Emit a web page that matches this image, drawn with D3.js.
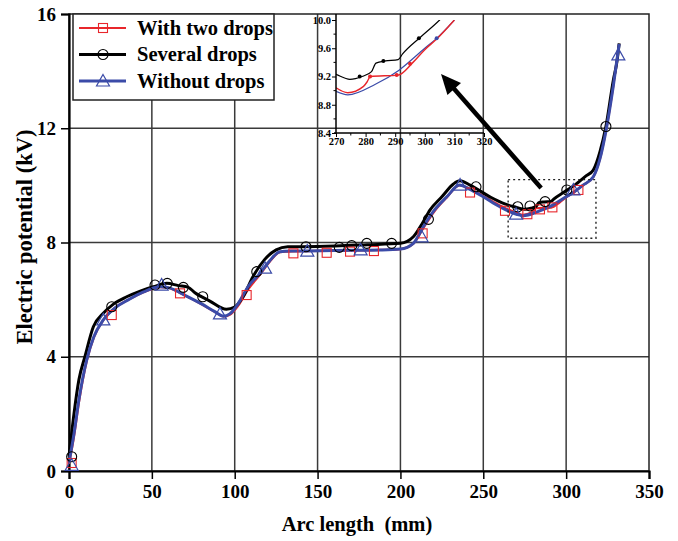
<!DOCTYPE html>
<html><head><meta charset="utf-8">
<script src="https://cdn.jsdelivr.net/npm/d3@7"></script>
<style>body{margin:0;background:#fff} svg text{font-family:"Liberation Serif","Times New Roman","DejaVu Serif",serif;font-weight:bold}</style>
</head><body><svg id="c" width="678" height="541"></svg>
<script>
// ---- data ----
const xTicks=[0,50,100,150,200,250,300,350];
const yTicks=[0,4,8,12,16];
const insetXTicks=[270,280,290,300,310,320];
const insetYTicks=[8.4,8.8,9.2,9.6,10.0];
const seriesNames=["With two drops","Several drops","Without drops"];
const seriesColors=["#e8262b","#000000","#3b4ba8"];

const redLine=[[0,0.25],[3,1.2],[6,2.4],[10.7,3.85],[15,4.68],[20.7,5.28],[28,5.72],[36,6.0],[45,6.26],[55,6.44],[60,6.41],[70,6.14],[80,5.84],[88,5.57],[93.2,5.41],[97,5.47],[102,5.78],[108,6.35],[115.3,6.88],[121,7.32],[127.3,7.66],[135,7.69],[160,7.71],[188,7.74],[200,7.77],[207.8,7.96],[213.8,8.5],[220,9.05],[228,9.58],[235.6,10.0],[242,9.87],[250,9.63],[260,9.3],[270,9.04],[274,8.97],[279.3,9.06],[280.6,9.13],[281.6,9.2],[291,9.22],[296,9.4],[300,9.58],[304,9.73],[310,10.0],[316.4,10.3],[320.5,10.95],[324,11.9],[328.5,13.5],[332,14.95]];
const blackLine=[[0,0.5],[3,2.0],[6,3.2],[9.6,4.0],[14.7,5.05],[20.7,5.52],[27,5.85],[34.8,6.1],[43,6.3],[50.9,6.45],[59,6.57],[66,6.49],[72,6.43],[76,6.24],[85,5.95],[95,5.66],[100,5.74],[105,6.1],[111,6.8],[118,7.4],[125,7.74],[132,7.85],[150,7.86],[180,7.92],[200,7.97],[207.8,8.2],[213,8.65],[217.9,9.14],[225,9.6],[232,10.05],[236,10.16],[242,10.01],[254,9.6],[263,9.35],[270,9.23],[274.7,9.16],[278.8,9.2],[282,9.27],[283.5,9.39],[286.7,9.42],[291,9.44],[292.5,9.52],[298.6,9.76],[305,10.0],[312,10.33],[316.4,10.54],[320.5,11.2],[324,12.06],[328.5,13.69],[330.7,14.35],[332,14.97]];
const blueLine=[[0,0.3],[3,1.3],[6,2.5],[10.7,3.89],[15,4.7],[20.7,5.29],[28,5.72],[36,6.0],[45,6.27],[55,6.45],[60,6.42],[70,6.15],[80,5.85],[88,5.58],[93.2,5.42],[97,5.5],[102,5.85],[108,6.45],[115.3,6.92],[121,7.35],[127.3,7.68],[135,7.7],[160,7.72],[188,7.74],[200,7.77],[207.8,7.97],[213.8,8.55],[220,9.1],[228,9.6],[235.6,10.01],[242,9.86],[250,9.6],[260,9.25],[270,8.99],[274,8.94],[283.3,9.09],[291.3,9.29],[300,9.6],[304,9.74],[310,10.0],[316.4,10.3],[320.5,10.95],[324,11.9],[328.5,13.5],[332,14.95]];

const redMarks=[[1.6,0.28],[25.8,5.46],[67,6.22],[107.2,6.16],[135.4,7.62],[155.5,7.64],[169.6,7.68],[184,7.7],[213.4,8.32],[242,9.75],[263.1,9.11],[276.6,8.99],[284.2,9.16],[291.7,9.23],[307.4,9.84]];
const blackMarks=[[1.6,0.5],[25.8,5.75],[51.9,6.51],[59.3,6.57],[69,6.43],[80.7,6.1],[113.3,6.98],[143,7.85],[163.1,7.83],[170.6,7.89],[179.7,7.97],[194.7,7.97],[216.9,8.81],[245.6,9.95],[270.8,9.25],[278.2,9.28],[287.3,9.43],[300.4,9.84],[324,12.06]];
const blueMarks=[[1.6,0.2],[20.7,5.29],[55.9,6.51],[91.1,5.5],[118.3,7.1],[143.8,7.7],[176,7.74],[212.8,8.2],[236,10.01],[269.8,8.99],[304.4,9.84],[331.5,14.57]];

const insetRedDots=[[281.5,9.2],[290.5,9.22],[295,9.38]];
const insetBlackDots=[[278,9.2],[286,9.42],[298,9.74]];
const insetBlueDots=[[304,9.74]];

const zoomBox={x0:265,x1:318,y0:8.15,y1:10.2};
const arrowFrom=[284.9,9.91], arrowTo=[224.5,13.9];

// ---- layout ----
const svg=d3.select("#c");
const L=69,R=649,T=14,B=471;
const x=d3.scaleLinear().domain([0,350]).range([L,R]);
const y=d3.scaleLinear().domain([0,16]).range([B,T]);

// grid
svg.append("g").selectAll("line").data(xTicks.filter(d=>d>0&&d<350)).join("line")
  .attr("x1",d=>x(d)).attr("x2",d=>x(d)).attr("y1",T).attr("y2",B)
  .attr("stroke","#3a3a3a").attr("stroke-width",1.5);
svg.append("g").selectAll("line").data(yTicks.filter(d=>d>0&&d<16)).join("line")
  .attr("y1",d=>y(d)).attr("y2",d=>y(d)).attr("x1",L).attr("x2",R)
  .attr("stroke","#3a3a3a").attr("stroke-width",1.5);

// frame
svg.append("rect").attr("x",L).attr("y",T).attr("width",R-L).attr("height",B-T)
  .attr("fill","none").attr("stroke","#222").attr("stroke-width",1.5);

// axes
const xAxis=svg.append("g").attr("transform",`translate(0,${B})`)
  .call(d3.axisBottom(x).tickValues(xTicks).tickSize(8).tickPadding(6).tickFormat(d3.format("d")));
const yAxis=svg.append("g").attr("transform",`translate(${L},0)`)
  .call(d3.axisLeft(y).tickValues(yTicks).tickSize(8).tickPadding(5).tickFormat(d3.format("d")));
[xAxis,yAxis].forEach(g=>{
  g.attr("font-family",null);
  g.select(".domain").attr("stroke","#000").attr("stroke-width",2.2);
  g.selectAll(".tick line").attr("stroke","#000").attr("stroke-width",1.5);
  g.selectAll(".tick text").attr("font-size",19).attr("fill","#000");
});

// titles
svg.append("text").attr("x",357).attr("y",531).attr("text-anchor","middle")
  .attr("font-size",20.5).attr("xml:space","preserve")
  .text("Arc length  (mm)");
svg.append("text").attr("transform","translate(32,237) rotate(-90)").attr("text-anchor","middle")
  .attr("font-size",22.5)
  .text("Electric potential (kV)");

// lines
const line=d3.line().x(d=>x(d[0])).y(d=>y(d[1])).curve(d3.curveMonotoneX);
svg.append("path").datum(redLine).attr("d",line).attr("fill","none").attr("stroke",seriesColors[0]).attr("stroke-width",2.2);
svg.append("path").datum(blackLine).attr("d",line).attr("fill","none").attr("stroke",seriesColors[1]).attr("stroke-width",3);
svg.append("path").datum(blueLine).attr("d",line).attr("fill","none").attr("stroke",seriesColors[2]).attr("stroke-width",3);

// markers
function sq(g,cx,cy,col){g.append("rect").attr("x",cx-4.5).attr("y",cy-4.5).attr("width",9).attr("height",9).attr("fill","none").attr("stroke",col).attr("stroke-width",1.1);}
function ci(g,cx,cy,col){g.append("circle").attr("cx",cx).attr("cy",cy).attr("r",5).attr("fill","none").attr("stroke",col).attr("stroke-width",1.1);}
function tr(g,cx,cy,col){g.append("path").attr("d",`M${cx},${cy-6.5}L${cx+6.5},${cy+5}L${cx-6.5},${cy+5}Z`).attr("fill","none").attr("stroke",col).attr("stroke-width",1.2);}
const mg=svg.append("g");
redMarks.forEach(d=>sq(mg,x(d[0]),y(d[1]),seriesColors[0]));
blackMarks.forEach(d=>ci(mg,x(d[0]),y(d[1]),seriesColors[1]));
blueMarks.forEach(d=>tr(mg,x(d[0]),y(d[1]),seriesColors[2]));

// zoom box
svg.append("rect").attr("x",x(zoomBox.x0)).attr("y",y(zoomBox.y1))
  .attr("width",x(zoomBox.x1)-x(zoomBox.x0)).attr("height",y(zoomBox.y0)-y(zoomBox.y1))
  .attr("fill","none").attr("stroke","#222").attr("stroke-width",1.4).attr("stroke-dasharray","2,3");

// arrow
{
  const x1=x(arrowFrom[0]),y1=y(arrowFrom[1]),x2=x(arrowTo[0]),y2=y(arrowTo[1]);
  const ang=Math.atan2(y2-y1,x2-x1), hl=20, hw=9;
  const bx=x2-hl*Math.cos(ang), by=y2-hl*Math.sin(ang);
  svg.append("line").attr("x1",x1).attr("y1",y1).attr("x2",bx+2*Math.cos(ang)).attr("y2",by+2*Math.sin(ang))
    .attr("stroke","#000").attr("stroke-width",4.5);
  const px=-Math.sin(ang), py=Math.cos(ang);
  svg.append("path").attr("d",`M${x2},${y2}L${bx+hw*px},${by+hw*py}L${bx-hw*px},${by-hw*py}Z`).attr("fill","#000");
}

// legend
const lg=svg.append("g");
lg.append("rect").attr("x",73).attr("y",14).attr("width",201).attr("height",86)
  .attr("fill","#fff").attr("stroke","#222").attr("stroke-width",1.5);
const legW=[2.2,3,3];
seriesNames.forEach((n,i)=>{
  const cy=28+i*26.5;
  lg.append("line").attr("x1",79).attr("x2",126).attr("y1",cy).attr("y2",cy).attr("stroke",seriesColors[i]).attr("stroke-width",legW[i]);
  if(i===0) sq(lg,103,cy,seriesColors[0]);
  if(i===1) ci(lg,103,cy,seriesColors[1]);
  if(i===2) tr(lg,103,cy,seriesColors[2]);
  lg.append("text").attr("x",137).attr("y",cy+6.5).attr("font-size",20.5).text(n);
});

// inset
const ix=d3.scaleLinear().domain([270,320]).range([336,484]);
const iy=d3.scaleLinear().domain([8.4,10.0]).range([133,20]);
const ig=svg.append("g");
svg.append("clipPath").attr("id","ic").append("rect").attr("x",336).attr("y",20).attr("width",148).attr("height",113);
const iline=d3.line().x(d=>ix(d[0])).y(d=>iy(d[1])).curve(d3.curveMonotoneX);
const inClip=ig.append("g").attr("clip-path","url(#ic)");
const sel=a=>a.filter(d=>d[0]>=262&&d[0]<=316);
inClip.append("path").datum(sel(blueLine)).attr("d",iline).attr("fill","none").attr("stroke",seriesColors[2]).attr("stroke-width",1.2);
inClip.append("path").datum(sel(redLine)).attr("d",iline).attr("fill","none").attr("stroke",seriesColors[0]).attr("stroke-width",1.4);
inClip.append("path").datum(sel(blackLine)).attr("d",iline).attr("fill","none").attr("stroke",seriesColors[1]).attr("stroke-width",1.2);
insetRedDots.forEach(d=>inClip.append("circle").attr("cx",ix(d[0])).attr("cy",iy(d[1])).attr("r",2).attr("fill",seriesColors[0]));
insetBlackDots.forEach(d=>inClip.append("circle").attr("cx",ix(d[0])).attr("cy",iy(d[1])).attr("r",2).attr("fill",seriesColors[1]));
insetBlueDots.forEach(d=>inClip.append("circle").attr("cx",ix(d[0])).attr("cy",iy(d[1])).attr("r",2).attr("fill",seriesColors[2]));

const iax=ig.append("g").attr("transform","translate(0,133)")
  .call(d3.axisBottom(ix).tickValues(insetXTicks).tickSize(4).tickPadding(1).tickFormat(d3.format("d")));
iax.append("g").selectAll("line").data([275,285,295,305,315]).join("line")
  .attr("x1",d=>ix(d)).attr("x2",d=>ix(d)).attr("y1",0).attr("y2",2.5).attr("stroke","#000");
const iay=ig.append("g").attr("transform","translate(336,0)")
  .call(d3.axisLeft(iy).tickValues(insetYTicks).tickSize(4).tickPadding(1).tickFormat(d3.format(".1f")));
iay.append("g").selectAll("line").data([8.6,9.0,9.4,9.8]).join("line")
  .attr("y1",d=>iy(d)).attr("y2",d=>iy(d)).attr("x1",0).attr("x2",-2.5).attr("stroke","#000");
iay.select(".domain").attr("d","M0,14V133");
[iax,iay].forEach(g=>{
  g.attr("font-family",null);
  g.select(".domain").attr("stroke","#000").attr("stroke-width",1.5);
  g.selectAll(".tick line").attr("stroke","#000");
  g.selectAll(".tick text").attr("font-size",10.5).attr("fill","#000");
});
iax.select(".domain").attr("d","M334,0H484");
</script></body></html>
